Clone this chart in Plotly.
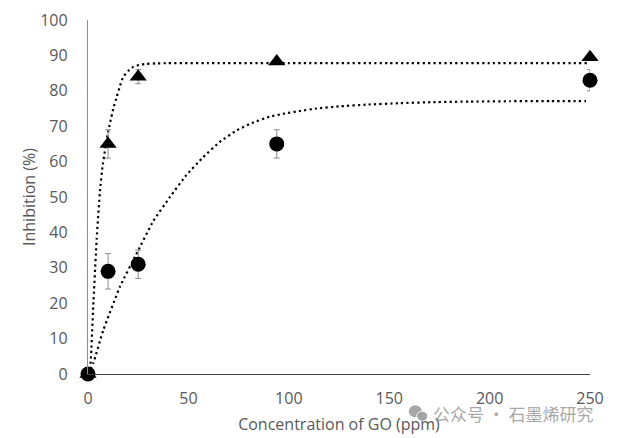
import plotly.graph_objects as go

# Measured data
conc = [0, 10, 25, 94, 250]
circle_vals = [0, 29, 31, 65, 83]
circle_err = [0, 5, 4, 4, 3]
tri_vals = [0, 65, 84, 88.3, 89.5]
tri_err = [0, 4, 2, 0, 0]

# Trendline points
tri_fit_x = [0, 1, 2.6, 4.3, 6, 7.2, 8.5, 9.7, 11, 12.6, 14.3, 16, 17.6, 20, 22.6, 25.5, 29, 34, 40, 60, 100, 150, 200, 250]
tri_fit_y = [0, 1, 19, 38, 52, 58.5, 63.3, 67.5, 71, 75, 78.3, 81.5, 84, 85.6, 86.8, 87.3, 87.6, 87.75, 87.8, 87.8, 87.8, 87.8, 87.8, 87.8]
cir_fit_x = [0, 2.6, 7.6, 16, 24, 32.5, 40.8, 49, 57.4, 65.7, 74, 82, 90.6, 98, 105.6, 113.8, 125, 138.8, 155, 172, 190, 210, 230, 248]
cir_fit_y = [0, 3, 12.4, 24.8, 33.8, 43.2, 50, 56.2, 61.3, 65.6, 68.8, 71, 72.7, 73.6, 74.3, 75, 75.6, 76.1, 76.5, 76.8, 76.95, 77.05, 77.1, 77.1]

x_ticks = [0, 50, 100, 150, 200, 250]
y_ticks = [0, 10, 20, 30, 40, 50, 60, 70, 80, 90, 100]

FONT = "Open Sans"
GRAY = "#595959"

fig = go.Figure()

dot_line = dict(color="black", width=2.2, dash="2.2px,3.2px", shape="spline", smoothing=0.3)
fig.add_trace(go.Scatter(x=tri_fit_x, y=tri_fit_y, mode="lines", line=dot_line,
                         hoverinfo="skip", showlegend=False, cliponaxis=False))
fig.add_trace(go.Scatter(x=cir_fit_x, y=cir_fit_y, mode="lines", line=dot_line,
                         hoverinfo="skip", showlegend=False, cliponaxis=False))

fig.add_trace(go.Scatter(
    x=conc, y=tri_vals, mode="markers",
    marker=dict(symbol="triangle-up", size=15, color="black"),
    error_y=dict(type="data", array=tri_err, color="#8c8c8c", thickness=1, width=3),
    showlegend=False, cliponaxis=False))
fig.add_trace(go.Scatter(
    x=conc, y=circle_vals, mode="markers",
    marker=dict(symbol="circle", size=15, color="black"),
    error_y=dict(type="data", array=circle_err, color="#8c8c8c", thickness=1, width=3),
    showlegend=False, cliponaxis=False))

# page body has an 8px margin: figure is sized/offset to compensate
fig.update_layout(
    width=609, height=430,
    margin=dict(l=80, r=27, t=12, b=64),
    paper_bgcolor="white", plot_bgcolor="white",
    font=dict(family=FONT, size=16, color=GRAY),
    xaxis=dict(range=[0, 250], tickvals=x_ticks, ticks="", showgrid=False, zeroline=False,
               showline=True, linecolor="#404040", linewidth=1.3, automargin=False,
               tickfont=dict(size=16, color=GRAY), ticklabelstandoff=10,
               title=dict(text="Concentration of GO (ppm)", font=dict(size=16, color=GRAY), standoff=10)),
    yaxis=dict(range=[0, 100], tickvals=y_ticks, ticks="", showgrid=False, zeroline=False,
               showline=True, linecolor="#8c8c8c", linewidth=1.3, automargin=False,
               tickfont=dict(size=16, color=GRAY), ticklabelstandoff=16,
               title=dict(text="Inhibition (%)", font=dict(size=16, color=GRAY), standoff=0)),
)

# watermark
fig.add_annotation(xref="paper", yref="paper", x=1.012, y=-0.112, xanchor="right", yanchor="middle",
                   text="公众号 · 石墨烯研究", showarrow=False,
                   font=dict(family="Noto Sans CJK SC", size=17, color="rgba(150,150,150,0.85)"))
fig.add_shape(type="circle", xref="paper", yref="paper", xsizemode="pixel", ysizemode="pixel",
              xanchor=0.655, yanchor=-0.108, x0=-8, x1=5, y0=-5, y1=7,
              fillcolor="rgba(150,150,150,0.85)", line_width=0)
fig.add_shape(type="circle", xref="paper", yref="paper", xsizemode="pixel", ysizemode="pixel",
              xanchor=0.655, yanchor=-0.108, x0=0, x1=11, y0=-9, y1=1,
              fillcolor="rgba(150,150,150,0.85)", line=dict(color="white", width=1))

fig.write_html("out.html")
